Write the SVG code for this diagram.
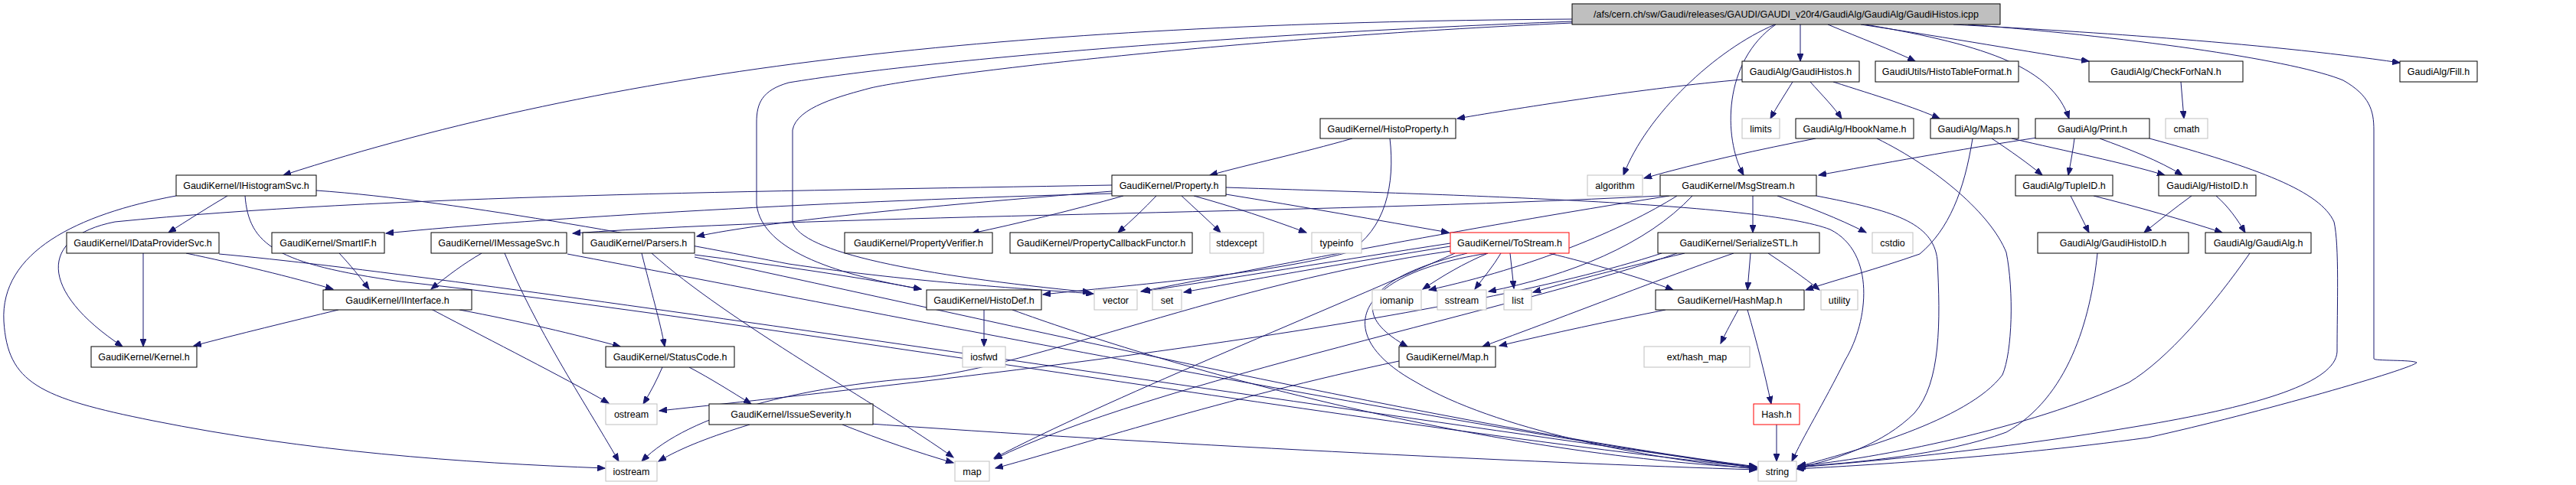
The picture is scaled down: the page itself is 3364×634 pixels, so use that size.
<svg xmlns="http://www.w3.org/2000/svg" width="3364" height="634" viewBox="0 0 3364 634">
<style>
.n rect{fill:#ffffff;stroke:#000000;stroke-width:1}
.g rect{fill:#ffffff;stroke:#bfbfbf;stroke-width:1}
.r rect{fill:#ffffff;stroke:#ff0000;stroke-width:1}
.root rect{fill:#bfbfbf;stroke:#000000;stroke-width:1}
text{font-family:"Liberation Sans",Arial,sans-serif;font-size:12.5px;fill:#000000;text-anchor:middle}
#edges path{fill:none;stroke:#191970;stroke-width:1;marker-end:url(#ah)}
</style>
<defs>
<marker id="ah" markerUnits="userSpaceOnUse" markerWidth="11" markerHeight="8" refX="10" refY="4" orient="auto">
<path d="M0,0 L10,4 L0,8 z" fill="#191970" stroke="#191970" stroke-width="1"/>
</marker>
</defs>
<rect x="0" y="0" width="3364" height="634" fill="#ffffff"/>
<g id="edges">
<path d="M2053,25 C1300,30 800,90 370,229"/>
<path d="M2318,32 C2240,65 2150,150 2120,229"/>
<path d="M2319,32 C2250,80 2250,180 2277,229"/>
<path d="M2351,32 L2351,80"/>
<path d="M2387,32 C2430,50 2470,65 2501,80"/>
<path d="M2436,32 C2600,60 2680,90 2702,155"/>
<path d="M2430,32 C2550,50 2650,68 2728,80"/>
<path d="M2551,32 C2700,40 2950,55 3134,82"/>
<path d="M2570,32 C2800,50 3000,80 3060,105 C3095,125 3100,145 3100,170 L3100,469 C3100,472 3150,470 3156,474 C3150,482 2950,540 2805,572 C2600,600 2400,610 2346,613"/>
<path d="M2053,28 C1600,45 1200,80 1030,108 C995,118 988,135 988,160 L988,267 C995,330 1100,360 1203,378"/>
<path d="M2053,30 C1600,50 1200,100 1137,115 C1100,125 1040,140 1035,170 L1035,290 C1045,330 1200,360 1424,382"/>
<path d="M2275,104 C2150,115 1990,140 1903,155"/>
<path d="M2341,107 C2330,125 2320,140 2312,155"/>
<path d="M2364,107 C2380,125 2395,140 2405,155"/>
<path d="M2394,107 C2450,125 2500,140 2533,155"/>
<path d="M1766,181 C1700,200 1630,215 1580,229"/>
<path d="M1815,181 C1822,240 1810,300 1760,330 C1650,360 1450,375 1362,385"/>
<path d="M2371,181 C2300,195 2220,212 2147,233"/>
<path d="M2451,181 C2530,220 2600,280 2620,330 C2630,380 2628,460 2615,490 C2570,550 2420,590 2348,610"/>
<path d="M2576,181 C2565,250 2545,300 2507,332 C2450,352 2400,365 2358,379"/>
<path d="M2601,181 C2625,197 2648,213 2667,229"/>
<path d="M2627,181 C2700,198 2770,212 2827,229"/>
<path d="M2660,180 C2560,195 2450,215 2375,229"/>
<path d="M2709,181 C2707,197 2704,213 2701,229"/>
<path d="M2742,181 C2780,195 2820,210 2850,229"/>
<path d="M2807,181 C2950,220 3030,250 3048,290 C3055,320 3052,400 3052,460 C3050,500 2950,530 2805,555 C2600,590 2420,605 2348,611"/>
<path d="M2848,107 L2852,155"/>
<path d="M2704,256 C2712,272 2720,288 2728,304"/>
<path d="M2734,256 C2790,270 2850,287 2902,304"/>
<path d="M2862,256 C2840,272 2820,288 2800,304"/>
<path d="M2894,256 C2910,270 2922,287 2932,304"/>
<path d="M2739,331 C2730,420 2700,520 2620,565 C2540,595 2420,605 2348,610"/>
<path d="M2938,331 C2890,400 2830,470 2780,500 C2650,560 2450,600 2348,609"/>
<path d="M2289,256 L2289,304"/>
<path d="M2321,256 C2360,270 2400,285 2437,304"/>
<path d="M2372,256 C2470,275 2525,290 2530,340 C2534,420 2535,500 2500,540 C2460,580 2400,600 2347,612"/>
<path d="M2168,256 C1700,280 1100,280 748,305"/>
<path d="M2190,256 C2120,300 2000,350 1866,379"/>
<path d="M2210,256 C2150,320 2050,360 1944,381"/>
<path d="M2180,256 C1900,300 1650,350 1490,381"/>
<path d="M2286,331 L2282,379"/>
<path d="M2309,331 C2330,345 2355,362 2376,379"/>
<path d="M2200,331 C2120,350 2060,365 2002,382"/>
<path d="M2264,331 C2180,360 2080,400 1936,453"/>
<path d="M2190,331 C2000,400 1500,500 1299,600"/>
<path d="M2170,331 C1900,420 1300,490 861,537"/>
<path d="M1943,331 C1910,345 1885,360 1858,378"/>
<path d="M1960,331 C1950,348 1938,362 1926,378"/>
<path d="M1972,331 L1977,377"/>
<path d="M2023,331 C2080,345 2140,362 2185,379"/>
<path d="M1916,331 C1780,365 1760,410 1838,453"/>
<path d="M1943,331 C1760,360 1740,440 1850,500 C1950,560 2150,600 2294,613"/>
<path d="M1894,318 C1750,340 1600,365 1492,381"/>
<path d="M1894,322 C1750,345 1620,368 1546,382"/>
<path d="M1895,328 C1600,370 1350,480 1200,494 C1050,505 900,540 838,603"/>
<path d="M1900,331 C1700,420 1450,520 1298,599"/>
<path d="M1467,256 C1400,275 1330,292 1269,305"/>
<path d="M1510,256 C1495,272 1478,288 1460,304"/>
<path d="M1543,256 C1560,272 1578,288 1594,304"/>
<path d="M1559,256 C1610,270 1660,287 1706,304"/>
<path d="M1601,254 C1700,270 1800,288 1892,304"/>
<path d="M1601,245 C1900,255 2300,265 2390,300 C2450,330 2440,420 2410,470 C2380,530 2355,570 2340,603"/>
<path d="M1452,250 C1200,270 1000,290 910,309"/>
<path d="M1452,253 C1100,262 700,285 504,305"/>
<path d="M1452,242 C1000,250 500,255 150,290 C50,310 50,380 160,453"/>
<path d="M838,331 C850,380 862,420 868,453"/>
<path d="M851,331 C950,420 1150,530 1245,598"/>
<path d="M907,333 C1000,345 1110,360 1203,378"/>
<path d="M907,336 C1300,420 1900,560 2294,610"/>
<path d="M629,331 C605,345 585,360 563,378"/>
<path d="M659,331 C700,430 760,520 808,603"/>
<path d="M741,332 C1100,400 1800,540 2294,612"/>
<path d="M187,331 L187,453"/>
<path d="M243,331 C310,345 380,362 435,378"/>
<path d="M286,332 C600,360 1500,500 2294,611"/>
<path d="M297,256 C270,272 245,288 220,304"/>
<path d="M230,256 C100,280 0,330 5,420 C10,500 50,520 200,550 C400,590 600,605 790,612"/>
<path d="M320,256 C325,320 360,345 523,368 C1000,420 1800,560 2294,611"/>
<path d="M413,249 C600,262 900,320 1030,345 C1200,370 1350,378 1428,384"/>
<path d="M442,405 C380,420 310,437 253,452"/>
<path d="M600,405 C680,420 750,437 810,453"/>
<path d="M563,404 C650,450 730,490 795,527"/>
<path d="M443,331 C458,347 470,362 482,378"/>
<path d="M865,480 C858,496 850,512 840,528"/>
<path d="M900,480 C930,496 955,512 981,528"/>
<path d="M979,555 C930,570 890,585 860,603"/>
<path d="M1100,555 C1150,575 1200,592 1245,605"/>
<path d="M1122,553 C1500,580 2000,605 2294,614"/>
<path d="M1285,405 L1285,453"/>
<path d="M1322,405 C1500,470 1900,590 2294,612"/>
<path d="M2175,405 C2100,420 2030,435 1958,452"/>
<path d="M2270,405 C2262,420 2255,432 2247,449"/>
<path d="M2282,405 C2295,450 2305,490 2313,528"/>
<path d="M2320,555 L2320,603"/>
<path d="M1827,472 C1600,520 1400,585 1300,612"/>
</g>
<g id="root" class="root"><rect x="2053" y="5" width="559" height="27"/><text x="2332.5" y="23">/afs/cern.ch/sw/Gaudi/releases/GAUDI/GAUDI_v20r4/GaudiAlg/GaudiAlg/GaudiHistos.icpp</text></g>
<g id="n_GaudiHistos" class="n"><rect x="2275" y="80" width="153" height="27"/><text x="2351.5" y="98">GaudiAlg/GaudiHistos.h</text></g>
<g id="n_HistoTableFormat" class="n"><rect x="2449" y="80" width="187" height="27"/><text x="2542.5" y="98">GaudiUtils/HistoTableFormat.h</text></g>
<g id="n_CheckForNaN" class="n"><rect x="2728" y="80" width="201" height="27"/><text x="2828.5" y="98">GaudiAlg/CheckForNaN.h</text></g>
<g id="n_Fill" class="n"><rect x="3134" y="80" width="101" height="27"/><text x="3184.5" y="98">GaudiAlg/Fill.h</text></g>
<g id="n_HistoProperty" class="n"><rect x="1724" y="155" width="177" height="26"/><text x="1812.5" y="173">GaudiKernel/HistoProperty.h</text></g>
<g id="n_limits" class="g"><rect x="2275" y="155" width="49" height="26"/><text x="2299.5" y="173">limits</text></g>
<g id="n_HbookName" class="n"><rect x="2345" y="155" width="154" height="26"/><text x="2422" y="173">GaudiAlg/HbookName.h</text></g>
<g id="n_Maps" class="n"><rect x="2521" y="155" width="115" height="26"/><text x="2578.5" y="173">GaudiAlg/Maps.h</text></g>
<g id="n_Print" class="n"><rect x="2658" y="155" width="149" height="26"/><text x="2732.5" y="173">GaudiAlg/Print.h</text></g>
<g id="n_cmath" class="g"><rect x="2828" y="155" width="55" height="26"/><text x="2855.5" y="173">cmath</text></g>
<g id="n_IHistogramSvc" class="n"><rect x="230" y="229" width="183" height="27"/><text x="321.5" y="247">GaudiKernel/IHistogramSvc.h</text></g>
<g id="n_Property" class="n"><rect x="1452" y="229" width="149" height="27"/><text x="1526.5" y="247">GaudiKernel/Property.h</text></g>
<g id="n_algorithm" class="g"><rect x="2073" y="229" width="72" height="27"/><text x="2109" y="247">algorithm</text></g>
<g id="n_MsgStream" class="n"><rect x="2168" y="229" width="204" height="27"/><text x="2270" y="247">GaudiKernel/MsgStream.h</text></g>
<g id="n_TupleID" class="n"><rect x="2632" y="229" width="127" height="27"/><text x="2695.5" y="247">GaudiAlg/TupleID.h</text></g>
<g id="n_HistoID" class="n"><rect x="2819" y="229" width="127" height="27"/><text x="2882.5" y="247">GaudiAlg/HistoID.h</text></g>
<g id="n_IDataProviderSvc" class="n"><rect x="87" y="304" width="199" height="27"/><text x="186.5" y="322">GaudiKernel/IDataProviderSvc.h</text></g>
<g id="n_SmartIF" class="n"><rect x="355" y="304" width="147" height="27"/><text x="428.5" y="322">GaudiKernel/SmartIF.h</text></g>
<g id="n_IMessageSvc" class="n"><rect x="563" y="304" width="177" height="27"/><text x="651.5" y="322">GaudiKernel/IMessageSvc.h</text></g>
<g id="n_Parsers" class="n"><rect x="761" y="304" width="146" height="27"/><text x="834" y="322">GaudiKernel/Parsers.h</text></g>
<g id="n_PropertyVerifier" class="n"><rect x="1103" y="304" width="193" height="27"/><text x="1199.5" y="322">GaudiKernel/PropertyVerifier.h</text></g>
<g id="n_PropertyCallbackFunctor" class="n"><rect x="1319" y="304" width="238" height="27"/><text x="1438" y="322">GaudiKernel/PropertyCallbackFunctor.h</text></g>
<g id="n_stdexcept" class="g"><rect x="1580" y="304" width="70" height="27"/><text x="1615" y="322">stdexcept</text></g>
<g id="n_typeinfo" class="g"><rect x="1713" y="304" width="65" height="27"/><text x="1745.5" y="322">typeinfo</text></g>
<g id="n_ToStream" class="r"><rect x="1894" y="304" width="155" height="27"/><text x="1971.5" y="322">GaudiKernel/ToStream.h</text></g>
<g id="n_SerializeSTL" class="n"><rect x="2165" y="304" width="211" height="27"/><text x="2270.5" y="322">GaudiKernel/SerializeSTL.h</text></g>
<g id="n_cstdio" class="g"><rect x="2445" y="304" width="53" height="27"/><text x="2471.5" y="322">cstdio</text></g>
<g id="n_GaudiHistoID" class="n"><rect x="2661" y="304" width="197" height="27"/><text x="2759.5" y="322">GaudiAlg/GaudiHistoID.h</text></g>
<g id="n_GaudiAlg" class="n"><rect x="2880" y="304" width="138" height="27"/><text x="2949" y="322">GaudiAlg/GaudiAlg.h</text></g>
<g id="n_IInterface" class="n"><rect x="422" y="379" width="194" height="26"/><text x="519" y="397">GaudiKernel/IInterface.h</text></g>
<g id="n_HistoDef" class="n"><rect x="1210" y="379" width="150" height="26"/><text x="1285" y="397">GaudiKernel/HistoDef.h</text></g>
<g id="n_vector" class="g"><rect x="1429" y="379" width="56" height="26"/><text x="1457" y="397">vector</text></g>
<g id="n_set" class="g"><rect x="1505" y="379" width="38" height="26"/><text x="1524" y="397">set</text></g>
<g id="n_iomanip" class="g"><rect x="1792" y="379" width="64" height="26"/><text x="1824" y="397">iomanip</text></g>
<g id="n_sstream" class="g"><rect x="1877" y="379" width="64" height="26"/><text x="1909" y="397">sstream</text></g>
<g id="n_list" class="g"><rect x="1964" y="379" width="36" height="26"/><text x="1982" y="397">list</text></g>
<g id="n_HashMap" class="n"><rect x="2162" y="379" width="194" height="26"/><text x="2259" y="397">GaudiKernel/HashMap.h</text></g>
<g id="n_utility" class="g"><rect x="2378" y="379" width="48" height="26"/><text x="2402" y="397">utility</text></g>
<g id="n_Kernel" class="n"><rect x="119" y="453" width="138" height="27"/><text x="188" y="471">GaudiKernel/Kernel.h</text></g>
<g id="n_StatusCode" class="n"><rect x="791" y="453" width="168" height="27"/><text x="875" y="471">GaudiKernel/StatusCode.h</text></g>
<g id="n_iosfwd" class="g"><rect x="1257" y="453" width="56" height="27"/><text x="1285" y="471">iosfwd</text></g>
<g id="n_Map" class="n"><rect x="1827" y="453" width="126" height="27"/><text x="1890" y="471">GaudiKernel/Map.h</text></g>
<g id="n_ext_hash_map" class="g"><rect x="2147" y="453" width="138" height="27"/><text x="2216" y="471">ext/hash_map</text></g>
<g id="n_ostream" class="g"><rect x="791" y="528" width="67" height="27"/><text x="824.5" y="546">ostream</text></g>
<g id="n_IssueSeverity" class="n"><rect x="926" y="528" width="214" height="27"/><text x="1033" y="546">GaudiKernel/IssueSeverity.h</text></g>
<g id="n_Hash" class="r"><rect x="2290" y="528" width="60" height="27"/><text x="2320" y="546">Hash.h</text></g>
<g id="n_iostream" class="g"><rect x="791" y="603" width="67" height="26"/><text x="824.5" y="621">iostream</text></g>
<g id="n_map" class="g"><rect x="1247" y="603" width="45" height="26"/><text x="1269.5" y="621">map</text></g>
<g id="n_string" class="g"><rect x="2296" y="603" width="50" height="26"/><text x="2321" y="621">string</text></g>
</svg>
